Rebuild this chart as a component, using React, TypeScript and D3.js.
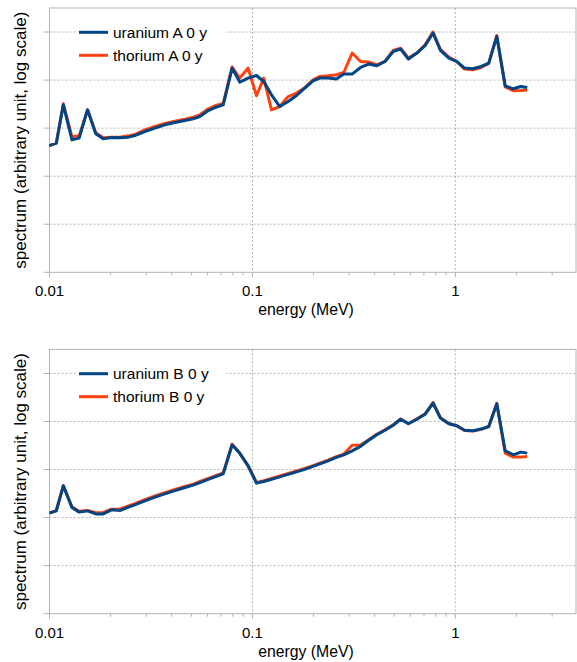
import * as d3 from 'd3';

// energy grid (MeV), shared by all series
const energy = [
  0.01, 0.0108, 0.0117, 0.0129, 0.014, 0.0154, 0.0169, 0.0184, 0.0202, 0.0222,
  0.0245, 0.0263, 0.0295, 0.0331, 0.037, 0.0415, 0.0465, 0.0511, 0.0551, 0.0606,
  0.0654, 0.0718, 0.0794, 0.0866, 0.0952, 0.1047, 0.1137, 0.1241, 0.1364, 0.15,
  0.165, 0.181, 0.199, 0.215, 0.236, 0.259, 0.282, 0.31, 0.341, 0.374,
  0.41, 0.45, 0.494, 0.537, 0.587, 0.646, 0.709, 0.776, 0.844, 0.929,
  1.015, 1.11, 1.22, 1.34, 1.46, 1.6, 1.76, 1.93, 2.1, 2.26,
];

const uraniumA = [
  434, 487, 3055, 570, 619, 2405, 761, 598, 637, 628,
  649, 701, 850, 1000, 1172, 1308, 1440, 1563, 1745, 2327,
  2686, 3055, 17783, 9085, 11015, 12470, 9350, 4940, 2818, 3582,
  4777, 6813, 9666, 11015, 11015, 10491, 13335, 13335, 18302, 21544,
  19860, 24410, 39400, 44250, 27380, 36520, 51850, 95300, 41380, 28730,
  24410, 17783, 17180, 19190, 22600, 80960, 7606, 6590, 7360, 7015,
];
const thoriumA = [
  434, 487, 3210, 659, 691, 2405, 798, 628, 649, 649,
  691, 736, 922, 1080, 1247, 1399, 1540, 1695, 1893, 2524,
  2915, 3285, 18660, 11015, 17783, 4710, 11015, 2405, 2818, 4550,
  5356, 6915, 10150, 11890, 12300, 12890, 14390, 36520, 24410, 23710,
  20830, 24410, 41380, 45960, 28730, 36520, 54340, 100000, 43400, 30130,
  24410, 16950, 16400, 18300, 22180, 84950, 7250, 5985, 6070, 6190,
];
const uraniumB = [
  123.5, 138, 457, 162, 130, 138, 119, 119, 145, 140,
  165, 184, 223, 266, 312, 365, 422, 473, 536, 625,
  705, 813, 3270, 2176, 1194, 521, 562, 625, 705, 794,
  896, 1010, 1166, 1314, 1518, 1795, 2024, 2453, 3043, 4057,
  5284, 6555, 8335, 11120, 8955, 11120, 14125, 24160, 11780, 8955,
  8130, 6555, 6400, 6948, 7870, 23380, 2453, 2024, 2305, 2196,
];
const thoriumB = [
  125, 140, 465, 168, 135, 141, 126, 128, 150, 150,
  175, 195, 237, 283, 330, 385, 445, 498, 565, 655,
  740, 850, 3350, 2200, 1200, 540, 585, 650, 735, 825,
  930, 1050, 1210, 1360, 1570, 1850, 2100, 3200, 3250, 4150,
  5400, 6700, 8500, 11300, 9100, 11300, 14400, 24800, 12000, 9100,
  8200, 6500, 6300, 6900, 7800, 23800, 2196, 1813, 1813, 1866,
];

const xTicks = [0.01, 0.1, 1];
const xTickLabels = ['0.01', '0.1', '1'];
const yDecades = [1, 10, 100, 1000, 1e4, 1e5];

const BLUE = '#004586';
const ORANGE = '#ff420e';
const GRID = '#b3b3b3';
const FONT = '"Liberation Sans", Arial, sans-serif';

const x = d3.scaleLog().domain([0.01, 3.93]).range([49.5, 576]);
const minorX = [0.01, 0.1, 1].flatMap((d) => d3.range(2, 10).map((k) => d * k)).filter((v) => v <= 3.93);

interface PanelProps {
  top: number;
  uranium: number[];
  thorium: number[];
  names: [string, string];
}

function Panel({ top, uranium, thorium, names }: PanelProps) {
  const bottom = top + 264.3;
  const y = d3.scaleLog().domain([1, Math.pow(10, 5.5)]).range([bottom, top]);
  const line = (vals: number[]) =>
    d3.line<number>().x((_, i) => x(energy[i])).y((d) => y(d))(vals) ?? '';
  const [x0, x1] = x.range();
  const cy = (top + bottom) / 2;
  return (
    <g>
      {/* grid */}
      {yDecades.slice(1).map((d) => (
        <line key={'gy' + d} x1={x0} x2={x1} y1={y(d)} y2={y(d)} stroke={GRID} strokeWidth={1} strokeDasharray="2,2" />
      ))}
      {xTicks.slice(1).map((d) => (
        <line key={'gx' + d} x1={x(d)} x2={x(d)} y1={top} y2={bottom} stroke={GRID} strokeWidth={1} strokeDasharray="2,2" />
      ))}
      <rect x={x0} y={top} width={x1 - x0} height={bottom - top} fill="none" stroke={GRID} strokeWidth={1} />
      {/* y ticks */}
      {yDecades.map((d) => (
        <line key={'ty' + d} x1={x0 - 6} x2={x0} y1={y(d)} y2={y(d)} stroke={GRID} strokeWidth={1} />
      ))}
      {/* x ticks */}
      {xTicks.map((d) => (
        <line key={'tx' + d} x1={x(d)} x2={x(d)} y1={bottom} y2={bottom + 5} stroke={GRID} strokeWidth={1} />
      ))}
      {minorX.map((d) => (
        <line key={'mx' + d} x1={x(d)} x2={x(d)} y1={bottom} y2={bottom + 3} stroke={GRID} strokeWidth={1} />
      ))}
      {xTicks.map((d, i) => (
        <text key={'lx' + d} x={x(d)} y={bottom + 24} textAnchor="middle" fontSize={15} fontFamily={FONT} fill="#000">
          {xTickLabels[i]}
        </text>
      ))}
      <text x={306} y={bottom + 43} textAnchor="middle" fontSize={15.8} fontFamily={FONT} fill="#000">
        energy (MeV)
      </text>
      <text
        transform={`translate(26, ${cy}) rotate(-90)`}
        textAnchor="middle"
        fontSize={17}
        fontFamily={FONT}
        fill="#000"
      >
        spectrum (arbitrary unit, log scale)
      </text>
      {/* legend */}
      <rect x={76} y={top + 12} width={150} height={58} fill="#fff" />
      {[BLUE, ORANGE].map((c, i) => (
        <g key={c}>
          <line x1={79} x2={108} y1={top + 24.3 + i * 23} y2={top + 24.3 + i * 23} stroke={c} strokeWidth={3} />
          <text x={113} y={top + 29.5 + i * 23} fontSize={15.5} fontFamily={FONT} fill="#000">
            {names[i]}
          </text>
        </g>
      ))}
      {/* series */}
      <path d={line(thorium)} fill="none" stroke={ORANGE} strokeWidth={3} strokeLinejoin="round" />
      <path d={line(uranium)} fill="none" stroke={BLUE} strokeWidth={3} strokeLinejoin="round" />
    </g>
  );
}

export default function App() {
  return (
    <svg width={577} height={662} style={{ position: 'absolute', left: 0, top: 0, background: '#fff' }}>
      <rect width={577} height={662} fill="#fff" />
      <Panel top={8} uranium={uraniumA} thorium={thoriumA} names={['uranium A 0 y', 'thorium A 0 y']} />
      <Panel top={349.4} uranium={uraniumB} thorium={thoriumB} names={['uranium B 0 y', 'thorium B 0 y']} />
    </svg>
  );
}
